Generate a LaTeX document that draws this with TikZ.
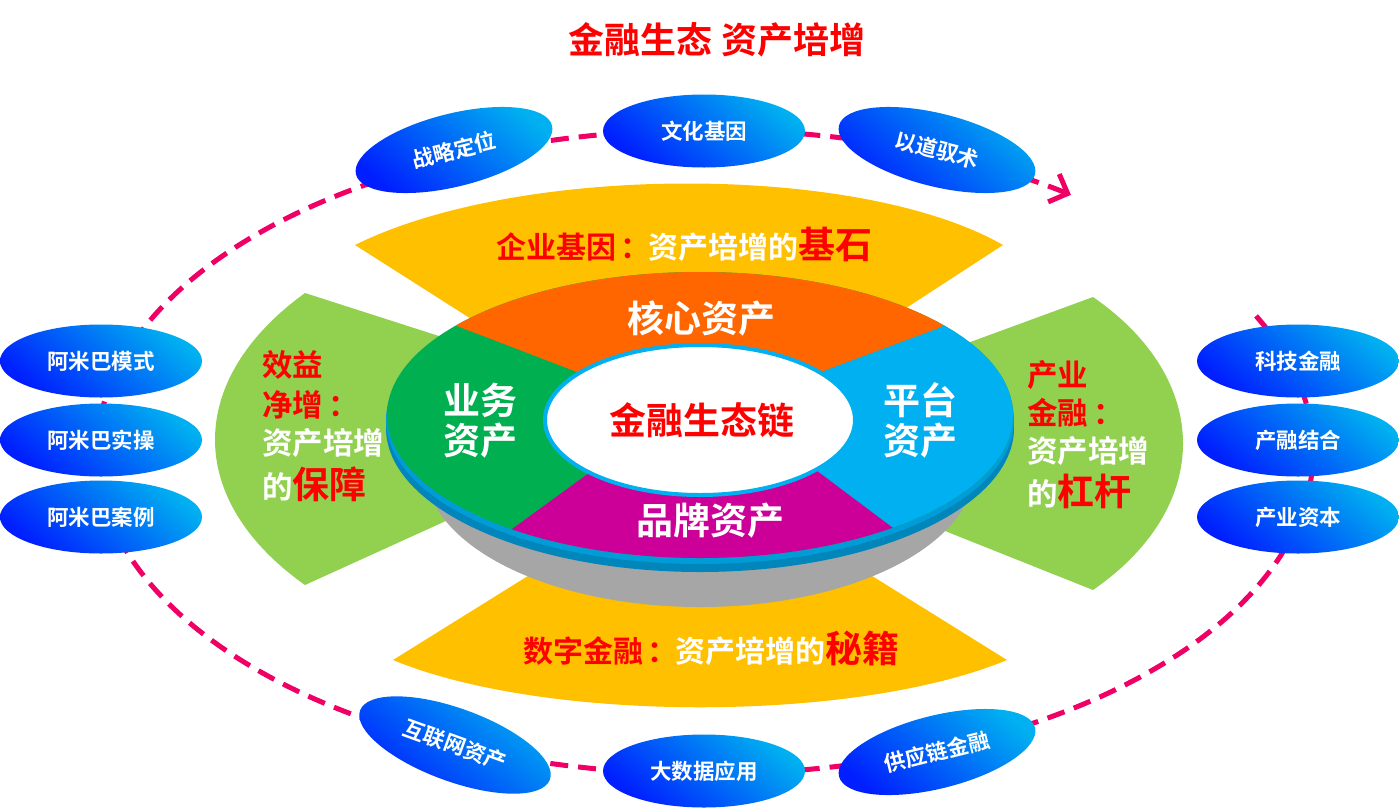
\documentclass[tikz,border=0pt]{standalone}
\usepackage{fontspec}
\setmainfont{Noto Sans CJK SC}[BoldFont={Noto Sans CJK SC Bold}]
\usepackage{xcolor}
\usetikzlibrary{shapes,arrows.meta,positioning}
\definecolor{ringpink}{RGB}{240,0,100}
\definecolor{bubdark}{RGB}{0,30,255}
\definecolor{bublight}{RGB}{0,176,240}
\definecolor{fangold}{RGB}{255,192,0}
\definecolor{fangreen}{RGB}{146,208,80}
\definecolor{secorange}{RGB}{255,102,0}
\definecolor{secgreen}{RGB}{0,176,80}
\definecolor{secblue}{RGB}{0,176,240}
\definecolor{secmagenta}{RGB}{204,0,153}
\definecolor{rimdark}{RGB}{0,134,186}
\definecolor{rimlight}{RGB}{0,156,216}
\definecolor{sidegray}{RGB}{166,166,166}
\newcommand{\fs}[1]{\fontsize{#1}{#1}\selectfont}
\newcommand{\wcolon}{\kern5pt：\kern-3pt}

\begin{document}
\begin{tikzpicture}[x=1pt, y=-1pt,
    bubble/.style={ellipse, minimum width=202pt, minimum height=73pt, inner sep=0pt,
        text=white, font=\fs{21.5}\bfseries,
        top color=bublight, bottom color=bubdark, shading angle=-40},
    ring/.style={ringpink, line width=5pt, dash pattern=on 18pt off 10pt},
    sectext/.style={text=white, font=\fs{37}\bfseries, inner sep=0pt},
    fantext/.style={text=white, font=\fs{30.5}\bfseries, inner sep=0pt, anchor=west},
    bandtext/.style={text=white, font=\fs{30}\bfseries, inner sep=0pt}
]
    \useasboundingbox (0,0) rectangle (1399,809);

    % title
    \node[text=red, font=\fs{36}\bfseries] (title) at (717,40) {金融生态 资产培增};

    % dashed ring
    \coordinate (ringc) at (705,452);
    \draw[ring, -{Straight Barb[length=15pt, width=30pt, line width=5pt]}]
        (ringc) ++(-25:608 and 322) arc[start angle=-25, end angle=307, x radius=608, y radius=322];

    % fans behind the platter
    \fill[fangold] (355,245) .. controls (520,163) and (860,163) .. (1003,245) -- (880,325) -- (520,350) -- cycle;
    \fill[fangold] (393,660) .. controls (545,723) and (855,723) .. (1007,660) -- (840,556) -- (560,556) -- cycle;
    \fill[fangreen] (305,293) .. controls (185,380) and (185,500) .. (305,585) -- (470,510) -- (470,346) -- cycle;
    \fill[fangreen] (1093,297) .. controls (1213,380) and (1213,507) .. (1093,590) -- (935,527) -- (935,355) -- cycle;

    % platter
    \fill[sidegray] (700,468) ellipse[x radius=275, y radius=139];
    \fill[rimdark] (700,428) ellipse[x radius=314, y radius=144];
    \fill[rimlight] (700,420) ellipse[x radius=314, y radius=144];
    \begin{scope}
        \clip (700,415) ellipse[x radius=313, y radius=143];
        \fill[secgreen] (380,260) rectangle (1020,570);
        \fill[secorange] (457,326) -- (585,375) -- (805,378) -- (942,327) -- (1100,100) -- (300,100) -- cycle;
        \fill[secblue] (942,327) -- (805,378) -- (805,462) -- (893,528) -- (1100,700) -- (1100,100) -- cycle;
        \fill[secmagenta] (512,529) -- (600,465) -- (805,462) -- (893,528) -- (1100,700) -- (300,700) -- cycle;
    \end{scope}
    \fill[white, draw=secblue, line width=4pt] (700,420) ellipse[x radius=155, y radius=75];

    % platter labels
    \node[sectext] (core) at (701,318) {核心资产};
    \node[sectext] (biz1) at (480,400) {业务};
    \node[sectext] (biz2) at (480,441) {资产};
    \node[sectext] (plat1) at (920,400) {平台};
    \node[sectext] (plat2) at (920,441) {资产};
    \node[sectext] (brand) at (710,521) {品牌资产};
    \node[sectext, text=red] (chain) at (702,420) {金融生态链};

    % fan labels
    \node[bandtext] (gene) at (684,244) {\textcolor{red}{企业基因\wcolon}资产培增的\textcolor{red}{\fs{37}基石}};
    \node[bandtext] (digit) at (711,648) {\textcolor{red}{数字金融\wcolon}资产培增的\textcolor{red}{\fs{37}秘籍}};
    \node[fantext, text=red] (eff1) at (262,365) {效益};
    \node[fantext, text=red] (eff2) at (262,405) {净增\wcolon};
    \node[fantext] (eff3) at (262,443) {资产培增};
    \node[fantext] (eff4) at (262,484) {的\textcolor{red}{\fs{37}保障}};
    \node[fantext, text=red] (ind1) at (1027,375) {产业};
    \node[fantext, text=red] (ind2) at (1027,413) {金融\wcolon};
    \node[fantext] (ind3) at (1027,451) {资产培增};
    \node[fantext] (ind4) at (1027,491) {的\textcolor{red}{\fs{37}杠杆}};

    % bubbles on the ring
    \node[bubble, rotate=14] (strat) at (454,150) {战略定位};
    \node[bubble] (culture) at (704,131) {文化基因};
    \node[bubble, rotate=-14] (dao) at (937,150) {以道驭术};
    \node[bubble] (amb1) at (101,361) {阿米巴模式};
    \node[bubble] (amb2) at (101,440) {阿米巴实操};
    \node[bubble] (amb3) at (101,517) {阿米巴案例};
    \node[bubble] (tech) at (1298,361) {科技金融};
    \node[bubble] (merge) at (1298,440) {产融结合};
    \node[bubble] (capital) at (1298,517) {产业资本};
    \node[bubble, rotate=-20] (inet) at (455,745) {互联网资产};
    \node[bubble] (bigdata) at (704,771) {大数据应用};
    \node[bubble, rotate=14] (supply) at (937,752) {供应链金融};
\end{tikzpicture}
\end{document}
